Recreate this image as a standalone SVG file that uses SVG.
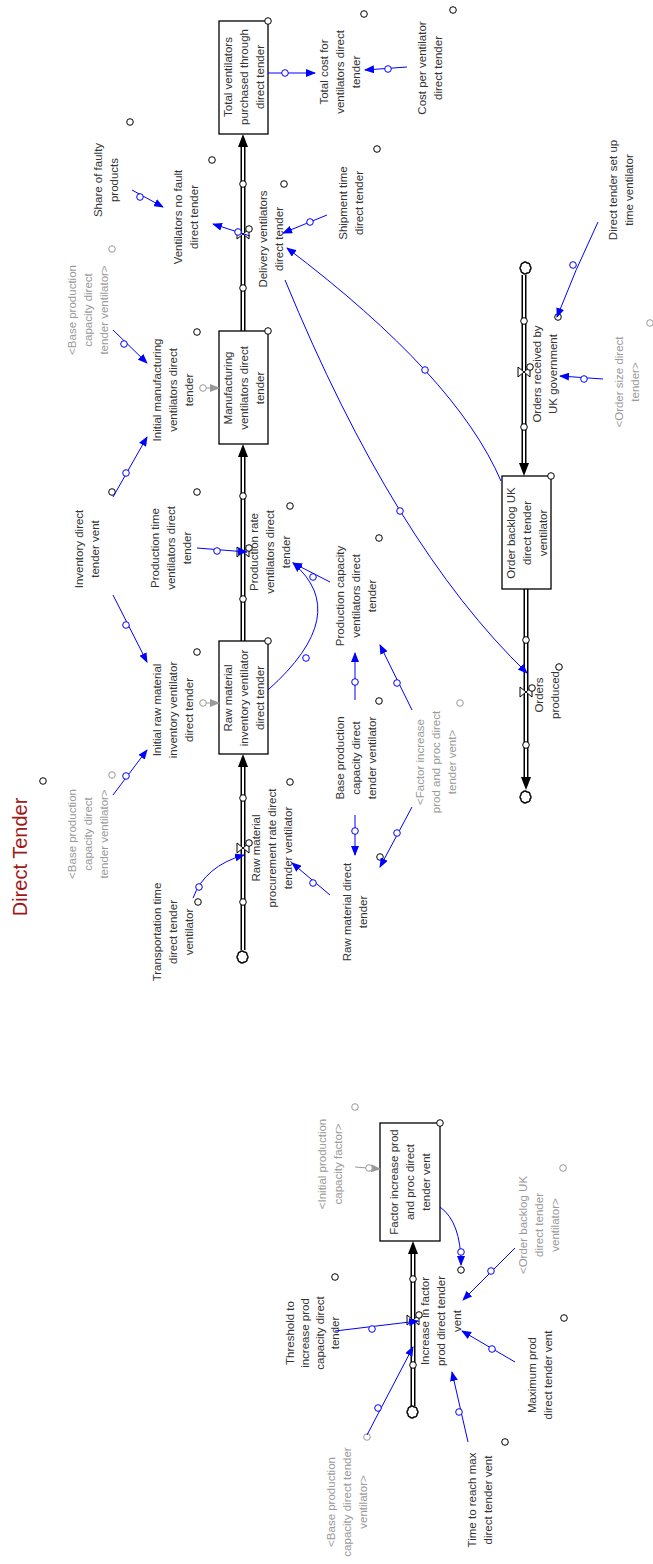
<svg xmlns="http://www.w3.org/2000/svg" width="653" height="1564" viewBox="0 0 653 1564">
<style>
.t{font-family:"Liberation Sans",Arial,sans-serif;font-size:11.5px;fill:#333;text-anchor:middle}
.s{fill:#9a9a9a}
.ti{font-family:"Liberation Sans",Arial,sans-serif;font-size:20px;fill:#a01818;text-anchor:middle}
.stock{fill:#fff;stroke:#000;stroke-width:1.3}
.hc{fill:#fff;stroke:#000;stroke-width:1}
.hg{fill:#fff;stroke:#999;stroke-width:1}
.cn{fill:none;stroke:#00f;stroke-width:1;marker-end:url(#ab)}
.ch{fill:#fff;stroke:#00f;stroke-width:1}
.gl{fill:none;stroke:#999;stroke-width:1;marker-end:url(#ag)}
.po{stroke:#000;stroke-width:5;fill:none}
.pi{stroke:#fff;stroke-width:2;fill:none}
.ah{fill:#000}
.valve{fill:#fff;stroke:#000;stroke-width:1}
.cloud{fill:#fff;stroke:#000;stroke-width:1.5}
</style>
<defs>
<marker id="ab" markerWidth="10" markerHeight="8" refX="9" refY="4" orient="auto" markerUnits="userSpaceOnUse"><path d="M0,0 L10,4 L0,8 z" fill="#00f"/></marker>
<marker id="ag" markerWidth="10" markerHeight="8" refX="9" refY="4" orient="auto" markerUnits="userSpaceOnUse"><path d="M0,0 L10,4 L0,8 z" fill="#999"/></marker>
<path id="cl" class="cloud" d="M-3,-5 a2.5,2.5 0 0 1 4,0 a2.5,2.5 0 0 1 3,3 a2.5,2.5 0 0 1 0,4 a2.5,2.5 0 0 1 -3,3 a2.5,2.5 0 0 1 -4,0 a2.5,2.5 0 0 1 -2,-3 a2.5,2.5 0 0 1 0,-4 a2.5,2.5 0 0 1 2,-3 z"/>
<path id="vl" class="valve" d="M-6,-5 L6,5 L6,-5 L-6,5 z"/>
</defs>

<g id="title"><text class="ti" transform="translate(20,857) rotate(-90)" y="7">Direct Tender</text><circle class="hc" cx="43" cy="781" r="3.3"/></g>

<!-- pipes -->
<g id="flows">
<line class="po" x1="243" y1="950" x2="243" y2="766"/><line class="pi" x1="243" y1="950" x2="243" y2="766"/>
<polygon class="ah" points="243,754 238,767 248,767"/>
<line class="po" x1="243" y1="641" x2="243" y2="456"/><line class="pi" x1="243" y1="641" x2="243" y2="456"/>
<polygon class="ah" points="243,444 238,457 248,457"/>
<line class="po" x1="243" y1="331" x2="243" y2="146"/><line class="pi" x1="243" y1="331" x2="243" y2="146"/>
<polygon class="ah" points="243,134 238,147 248,147"/>
<line class="po" x1="524" y1="275" x2="524" y2="464"/><line class="pi" x1="524" y1="275" x2="524" y2="464"/>
<polygon class="ah" points="524,476 519,463 529,463"/>
<line class="po" x1="526" y1="589" x2="526" y2="779"/><line class="pi" x1="526" y1="589" x2="526" y2="779"/>
<polygon class="ah" points="526,790 521,777 531,777"/>
<line class="po" x1="413" y1="1406" x2="413" y2="1253"/><line class="pi" x1="413" y1="1406" x2="413" y2="1253"/>
<polygon class="ah" points="413,1241 408,1254 418,1254"/>
<use href="#cl" x="243" y="957"/>
<use href="#cl" x="526" y="268"/>
<use href="#cl" x="526" y="797"/>
<use href="#cl" x="413" y="1412"/>
<use href="#vl" x="243" y="848"/>
<use href="#vl" x="243" y="552"/>
<use href="#vl" x="243" y="234"/>
<use href="#vl" x="524" y="372"/>
<use href="#vl" x="526" y="692"/>
<use href="#vl" x="413" y="1320"/>
<g class="hc">
<circle cx="243" cy="798" r="3.3"/><circle cx="243" cy="902" r="3.3"/>
<circle cx="243" cy="496" r="3.3"/><circle cx="243" cy="599" r="3.3"/>
<circle cx="243" cy="184" r="3.3"/><circle cx="243" cy="288" r="3.3"/>
<circle cx="524" cy="321" r="3.3"/><circle cx="524" cy="427" r="3.3"/>
<circle cx="526" cy="640" r="3.3"/><circle cx="526" cy="745" r="3.3"/>
<circle cx="413" cy="1279" r="3.3"/><circle cx="413" cy="1365" r="3.3"/>
<circle cx="249" cy="843" r="3.3"/><circle cx="249" cy="548" r="3.3"/><circle cx="249" cy="229" r="3.3"/>
<circle cx="530" cy="367" r="3.3"/><circle cx="532" cy="688" r="3.3"/><circle cx="419" cy="1315" r="3.3"/>
</g>
</g>

<!-- stocks -->
<g id="total_ventilators"><rect class="stock" x="219" y="21" width="49" height="113"/><text class="t" transform="translate(244,77) rotate(-90)"><tspan x="0" y="-12">Total ventilators</tspan><tspan x="0" y="4">purchased through</tspan><tspan x="0" y="20">direct tender</tspan></text><circle class="hc" cx="268" cy="21" r="3.3"/></g>
<g id="manufacturing"><rect class="stock" x="219" y="331" width="49" height="113"/><text class="t" transform="translate(244,388) rotate(-90)"><tspan x="0" y="-12">Manufacturing</tspan><tspan x="0" y="4">ventilators direct</tspan><tspan x="0" y="20">tender</tspan></text><circle class="hc" cx="268" cy="331" r="3.3"/></g>
<g id="raw_inventory"><rect class="stock" x="219" y="641" width="49" height="113"/><text class="t" transform="translate(244,698) rotate(-90)"><tspan x="0" y="-12">Raw material</tspan><tspan x="0" y="4">inventory ventilator</tspan><tspan x="0" y="20">direct tender</tspan></text><circle class="hc" cx="268" cy="641" r="3.3"/></g>
<g id="order_backlog"><rect class="stock" x="502" y="476" width="49" height="113"/><text class="t" transform="translate(527,533) rotate(-90)"><tspan x="0" y="-12">Order backlog UK</tspan><tspan x="0" y="4">direct tender</tspan><tspan x="0" y="20">ventilator</tspan></text><circle class="hc" cx="551" cy="476" r="3.3"/></g>
<g id="factor_increase"><rect class="stock" x="380" y="1123" width="60" height="118"/><text class="t" transform="translate(410,1182) rotate(-90)"><tspan x="0" y="-12">Factor increase prod</tspan><tspan x="0" y="4">and proc direct</tspan><tspan x="0" y="20">tender vent</tspan></text><circle class="hc" cx="440" cy="1123" r="3.3"/></g>

<!-- flow labels -->
<g id="raw_procurement_rate"><text class="t" transform="translate(272,848) rotate(-90)"><tspan x="0" y="-12">Raw material</tspan><tspan x="0" y="4">procurement rate direct</tspan><tspan x="0" y="20">tender ventilator</tspan></text><circle class="hc" cx="290" cy="782" r="3.3"/></g>
<g id="production_rate"><text class="t" transform="translate(270,552) rotate(-90)"><tspan x="0" y="-12">Production rate</tspan><tspan x="0" y="4">ventilators direct</tspan><tspan x="0" y="20">tender</tspan></text><circle class="hc" cx="290" cy="506" r="3.3"/></g>
<g id="delivery"><text class="t" transform="translate(271,239) rotate(-90)"><tspan x="0" y="-4">Delivery ventilators</tspan><tspan x="0" y="12">direct tender</tspan></text><circle class="hc" cx="284" cy="184" r="3.3"/></g>
<g id="orders_received"><text class="t" transform="translate(545,374) rotate(-90)"><tspan x="0" y="-4">Orders received by</tspan><tspan x="0" y="12">UK government</tspan></text><circle class="hc" cx="558" cy="317" r="3.3"/></g>
<g id="orders_produced"><text class="t" transform="translate(547,695) rotate(-90)"><tspan x="0" y="-4">Orders</tspan><tspan x="0" y="12">produced</tspan></text><circle class="hc" cx="559" cy="667" r="3.3"/></g>
<g id="increase_factor"><text class="t" transform="translate(441,1321) rotate(-90)"><tspan x="0" y="-12">Increase in factor</tspan><tspan x="0" y="4">prod direct tender</tspan><tspan x="0" y="20">vent</tspan></text><circle class="hc" cx="461" cy="1270" r="3.3"/></g>

<!-- variables -->
<g id="total_cost"><text class="t" transform="translate(340,72) rotate(-90)"><tspan x="0" y="-12">Total cost for</tspan><tspan x="0" y="4">ventilators direct</tspan><tspan x="0" y="20">tender</tspan></text><circle class="hc" cx="364" cy="14" r="3.3"/></g>
<g id="cost_per"><text class="t" transform="translate(430,68) rotate(-90)"><tspan x="0" y="-4">Cost per ventilator</tspan><tspan x="0" y="12">direct tender</tspan></text><circle class="hc" cx="453" cy="10" r="3.3"/></g>
<g id="shipment_time"><text class="t" transform="translate(351,203) rotate(-90)"><tspan x="0" y="-4">Shipment time</tspan><tspan x="0" y="12">direct tender</tspan></text><circle class="hc" cx="377" cy="149" r="3.3"/></g>
<g id="no_fault"><text class="t" transform="translate(186,217) rotate(-90)"><tspan x="0" y="-4">Ventilators no fault</tspan><tspan x="0" y="12">direct tender</tspan></text><circle class="hc" cx="212" cy="160" r="3.3"/></g>
<g id="share_faulty"><text class="t" transform="translate(106,180) rotate(-90)"><tspan x="0" y="-4">Share of faulty</tspan><tspan x="0" y="12">products</tspan></text><circle class="hc" cx="130" cy="122" r="3.3"/></g>
<g id="shadow_base_1"><text class="t s" transform="translate(88,310) rotate(-90)"><tspan x="0" y="-12">&lt;Base production</tspan><tspan x="0" y="4">capacity direct</tspan><tspan x="0" y="20">tender ventilator&gt;</tspan></text><circle class="hg" cx="112" cy="249" r="3.3"/></g>
<g id="initial_manufacturing"><text class="t" transform="translate(173,390) rotate(-90)"><tspan x="0" y="-12">Initial manufacturing</tspan><tspan x="0" y="4">ventilators direct</tspan><tspan x="0" y="20">tender</tspan></text><circle class="hc" cx="197" cy="332" r="3.3"/></g>
<g id="inventory_vent"><text class="t" transform="translate(87,549) rotate(-90)"><tspan x="0" y="-4">Inventory direct</tspan><tspan x="0" y="12">tender vent</tspan></text><circle class="hc" cx="112" cy="492" r="3.3"/></g>
<g id="initial_raw"><text class="t" transform="translate(173,710) rotate(-90)"><tspan x="0" y="-12">Initial raw material</tspan><tspan x="0" y="4">inventory ventilator</tspan><tspan x="0" y="20">direct tender</tspan></text><circle class="hc" cx="197" cy="652" r="3.3"/></g>
<g id="shadow_base_2"><text class="t s" transform="translate(88,834) rotate(-90)"><tspan x="0" y="-12">&lt;Base production</tspan><tspan x="0" y="4">capacity direct</tspan><tspan x="0" y="20">tender ventilator&gt;</tspan></text><circle class="hg" cx="112" cy="775" r="3.3"/></g>
<g id="production_time"><text class="t" transform="translate(171,548) rotate(-90)"><tspan x="0" y="-12">Production time</tspan><tspan x="0" y="4">ventilators direct</tspan><tspan x="0" y="20">tender</tspan></text><circle class="hc" cx="197" cy="492" r="3.3"/></g>
<g id="production_capacity"><text class="t" transform="translate(356,596) rotate(-90)"><tspan x="0" y="-12">Production capacity</tspan><tspan x="0" y="4">ventilators direct</tspan><tspan x="0" y="20">tender</tspan></text><circle class="hc" cx="379" cy="538" r="3.3"/></g>
<g id="base_production"><text class="t" transform="translate(356,758) rotate(-90)"><tspan x="0" y="-12">Base production</tspan><tspan x="0" y="4">capacity direct</tspan><tspan x="0" y="20">tender ventilator</tspan></text><circle class="hc" cx="379" cy="701" r="3.3"/></g>
<g id="shadow_factor"><text class="t s" transform="translate(436,762) rotate(-90)"><tspan x="0" y="-12">&lt;Factor increase</tspan><tspan x="0" y="4">prod and proc direct</tspan><tspan x="0" y="20">tender vent&gt;</tspan></text><circle class="hg" cx="460" cy="703" r="3.3"/></g>
<g id="raw_material_dt"><text class="t" transform="translate(355,912) rotate(-90)"><tspan x="0" y="-4">Raw material direct</tspan><tspan x="0" y="12">tender</tspan></text><circle class="hc" cx="380" cy="857" r="3.3"/></g>
<g id="transportation_time"><text class="t" transform="translate(173,932) rotate(-90)"><tspan x="0" y="-12">Transportation time</tspan><tspan x="0" y="4">direct tender</tspan><tspan x="0" y="20">ventilator</tspan></text><circle class="hc" cx="198" cy="902" r="3.3"/></g>
<g id="setup_time"><text class="t" transform="translate(621,190) rotate(-90)"><tspan x="0" y="-4">Direct tender set up</tspan><tspan x="0" y="12">time ventilator</tspan></text></g>
<g id="shadow_order_size"><text class="t s" transform="translate(627,382) rotate(-90)"><tspan x="0" y="-4">&lt;Order size direct</tspan><tspan x="0" y="12">tender&gt;</tspan></text><circle class="hg" cx="650" cy="323" r="3.3"/></g>
<g id="shadow_initial_factor"><text class="t s" transform="translate(330,1164) rotate(-90)"><tspan x="0" y="-4">&lt;Initial production</tspan><tspan x="0" y="12">capacity factor&gt;</tspan></text><circle class="hg" cx="355" cy="1107" r="3.3"/></g>
<g id="shadow_backlog"><text class="t s" transform="translate(539,1225) rotate(-90)"><tspan x="0" y="-12">&lt;Order backlog UK</tspan><tspan x="0" y="4">direct tender</tspan><tspan x="0" y="20">ventilator&gt;</tspan></text><circle class="hg" cx="563" cy="1168" r="3.3"/></g>
<g id="maximum_prod"><text class="t" transform="translate(540,1375) rotate(-90)"><tspan x="0" y="-4">Maximum prod</tspan><tspan x="0" y="12">direct tender vent</tspan></text><circle class="hc" cx="564" cy="1318" r="3.3"/></g>
<g id="time_to_reach"><text class="t" transform="translate(480,1500) rotate(-90)"><tspan x="0" y="-4">Time to reach max</tspan><tspan x="0" y="12">direct tender vent</tspan></text><circle class="hc" cx="505" cy="1442" r="3.3"/></g>
<g id="threshold"><text class="t" transform="translate(313,1333) rotate(-90)"><tspan x="0" y="-19">Threshold to</tspan><tspan x="0" y="-4">increase prod</tspan><tspan x="0" y="11">capacity direct</tspan><tspan x="0" y="26">tender</tspan></text><circle class="hc" cx="335" cy="1277" r="3.3"/></g>
<g id="shadow_base_3"><text class="t s" transform="translate(347,1502) rotate(-90)"><tspan x="0" y="-12">&lt;Base production</tspan><tspan x="0" y="4">capacity direct tender</tspan><tspan x="0" y="20">ventilator&gt;</tspan></text><circle class="hg" cx="367" cy="1437" r="3.3"/></g>

<!-- connectors -->
<g id="connectors">
<path class="cn" d="M268,73 L315,73"/>
<path class="cn" d="M407,67 L365,70"/>
<path class="cn" d="M327,215 L283,233"/>
<path class="cn" d="M250,236 L213,224"/>
<path class="cn" d="M132,190 L163,207"/>
<path class="cn" d="M113,330 L147,363"/>
<path class="cn" d="M113,497 L147,437"/>
<path class="cn" d="M113,595 L147,662"/>
<path class="cn" d="M113,795 L147,750"/>
<path class="cn" d="M197,548 L247,552"/>
<path class="cn" d="M330,582 L293,563"/>
<path class="cn" d="M268,690 Q353,614 293,563"/>
<path class="cn" d="M355,700 L355,653"/>
<path class="cn" d="M355,815 L355,855"/>
<path class="cn" d="M412,710 L380,645"/>
<path class="cn" d="M412,807 L380,867"/>
<path class="cn" d="M330,895 L292,863"/>
<path class="cn" d="M193,898 Q205,866 244,855"/>
<path class="cn" d="M501,481 Q456,376 287,248"/>
<path class="cn" d="M285,280 Q394,545 527,673"/>
<path class="cn" d="M598,222 Q575,270 557,317"/>
<path class="cn" d="M603,379 L560,376"/>
<path class="gl" d="M206,388 L219,388"/>
<path class="gl" d="M206,703 L219,703"/>
<path class="gl" d="M355,1167 L380,1169"/>
<path class="cn" d="M440,1207 Q461,1222 461,1265"/>
<path class="cn" d="M515,1248 L463,1300"/>
<path class="cn" d="M515,1362 L462,1331"/>
<path class="cn" d="M468,1442 L452,1372"/>
<path class="cn" d="M335,1331 L418,1321"/>
<path class="cn" d="M367,1435 L413,1347"/>
<g class="ch">
<circle cx="285" cy="73" r="3.3"/><circle cx="388" cy="69" r="3.3"/><circle cx="310" cy="222" r="3.3"/>
<circle cx="238" cy="232" r="3.3"/><circle cx="140" cy="197" r="3.3"/><circle cx="124" cy="344" r="3.3"/>
<circle cx="126" cy="473" r="3.3"/><circle cx="126" cy="625" r="3.3"/><circle cx="126" cy="776" r="3.3"/>
<circle cx="217" cy="551" r="3.3"/><circle cx="313" cy="577" r="3.3"/><circle cx="306" cy="658" r="3.3"/>
<circle cx="355" cy="682" r="3.3"/><circle cx="355" cy="831" r="3.3"/><circle cx="397" cy="683" r="3.3"/>
<circle cx="397" cy="833" r="3.3"/><circle cx="313" cy="883" r="3.3"/><circle cx="199" cy="887" r="3.3"/>
<circle cx="425" cy="370" r="3.3"/><circle cx="400" cy="511" r="3.3"/><circle cx="573" cy="265" r="3.3"/>
<circle cx="584" cy="379" r="3.3"/><circle cx="461" cy="1252" r="3.3"/><circle cx="491" cy="1271" r="3.3"/>
<circle cx="492" cy="1349" r="3.3"/><circle cx="459" cy="1412" r="3.3"/><circle cx="372" cy="1329" r="3.3"/>
<circle cx="378" cy="1408" r="3.3"/>
</g>
<g class="hg"><circle cx="203" cy="388" r="3.3"/><circle cx="203" cy="703" r="3.3"/><circle cx="369" cy="1168" r="3.3"/></g>
</g>
</svg>
